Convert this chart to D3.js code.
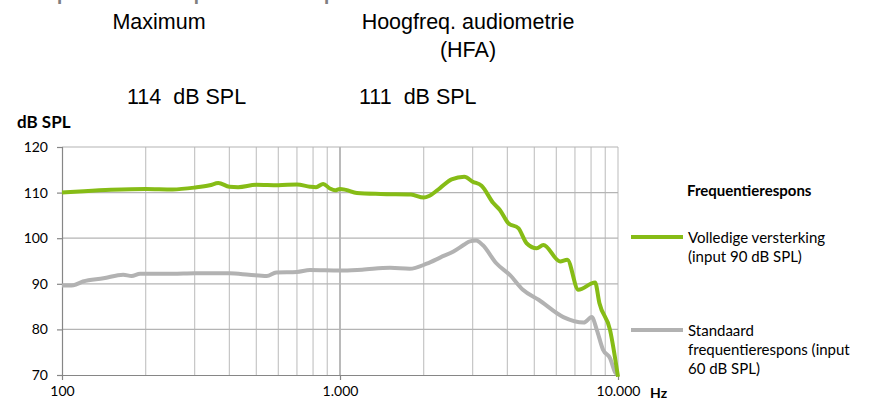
<!DOCTYPE html>
<html>
<head>
<meta charset="utf-8">
<script src="https://cdn.jsdelivr.net/npm/d3@7"></script>
<style>
  body { margin: 0; background: #fff; }
  svg { display: block; }
</style>
</head>
<body>
<div id="chart"></div>
<script>
// ---- data ----
const fullFreq = [100, 120, 150, 200, 250, 300, 340, 365, 400, 430, 500, 600, 700, 780, 820, 870, 920, 960, 1000,
  1050, 1150, 1400, 1800, 2000, 2100, 2290, 2520, 2800, 3000, 3230, 3560, 3760, 4030, 4380, 4690, 5100,
  5390, 6190, 6570, 7200, 8270, 8570, 9360, 10000];
const fullDb = [110.0, 110.3, 110.6, 110.8, 110.7, 111.1, 111.6, 112.1, 111.3, 111.2, 111.7, 111.6, 111.8, 111.3, 111.2, 111.9, 110.9, 110.5, 110.8,
  110.6, 109.9, 109.7, 109.6, 108.9, 109.3, 111.0, 112.9, 113.5, 112.4, 111.5, 107.7, 106.2, 103.3, 102.2, 98.9, 97.8,
  98.5, 94.9, 95.3, 88.7, 90.3, 85.8, 79.9, 69.6];

const stdFreq = [100, 110, 119, 141, 166, 178, 191, 250, 300, 400, 470, 545, 590, 700, 780, 1000, 1200, 1513, 1780,
  2050, 2300, 2560, 2800, 2930, 3090, 3260, 3650, 4090, 4550, 5180, 6360, 7530, 8050, 8390, 8840, 9360, 9780, 10000];
const stdDb = [89.6, 89.7, 90.5, 91.2, 92.0, 91.7, 92.2, 92.2, 92.3, 92.3, 92.0, 91.7, 92.5, 92.6, 93.0, 92.9, 93.1, 93.5, 93.3,
  94.4, 95.8, 97.1, 98.6, 99.3, 99.5, 98.5, 94.5, 91.9, 88.7, 86.5, 82.7, 81.5, 82.7, 79.9, 75.5, 73.7, 70.5, 70.0];

const yTicks = [70, 80, 90, 100, 110, 120];
const xTickLabels = [[100, "100"], [1000, "1.000"], [10000, "10.000"]];

const headers = [
  { lines: ["Maximum"], value: "114  dB SPL" },
  { lines: ["Hoogfreq. audiometrie", "(HFA)"], value: "111  dB SPL" }
];

const legendItems = [
  { lines: ["Volledige versterking", "(input 90 dB SPL)"], color: "#86bc16" },
  { lines: ["Standaard", "frequentierespons (input", "60 dB SPL)"], color: "#b2b2b2" }
];

const width = 873, height = 401;
const margin = { top: 147, right: 255, bottom: 26, left: 62 };

const svg = d3.select("#chart").append("svg")
  .attr("width", width)
  .attr("height", height);

const x = d3.scaleLog()
  .domain([100, 10000])
  .range([margin.left, width - margin.right]);

const y = d3.scaleLinear()
  .domain([70, 120])
  .range([height - margin.bottom, margin.top]);

const labelFont = "Lato, 'Open Sans', sans-serif";

// slide title, cut off by the top edge as in the original
svg.append("text")
  .attr("x", 8)
  .attr("y", -2)
  .attr("font-family", "'Liberation Sans', Arial, sans-serif")
  .attr("font-size", 30)
  .attr("fill", "#7f7f7f")
  .text("Output en frequentierespons");

// header texts
const hdr = svg.append("g")
  .attr("font-family", "'Liberation Sans', Arial, sans-serif")
  .attr("font-size", 21.5)
  .attr("fill", "#000");

hdr.append("text").attr("x", 159).attr("y", 29).attr("text-anchor", "middle").text(headers[0].lines[0]);
hdr.append("text").attr("x", 468).attr("y", 29).attr("text-anchor", "middle").text(headers[1].lines[0]);
hdr.append("text").attr("x", 468).attr("y", 57).attr("text-anchor", "middle").text(headers[1].lines[1]);
hdr.append("text").attr("x", 127).attr("y", 104).style("white-space", "pre").text(headers[0].value);
hdr.append("text").attr("x", 359).attr("y", 104).style("white-space", "pre").text(headers[1].value);

// grid
const minorFreqs = d3.range(2, 10).map(d => d * 100).concat(d3.range(2, 10).map(d => d * 1000));
const g = svg.append("g");

g.selectAll(".vgrid")
  .data(minorFreqs.concat([1000, 10000]))
  .enter().append("line")
  .attr("x1", d => x(d)).attr("x2", d => x(d))
  .attr("y1", y(70)).attr("y2", y(120))
  .attr("stroke", d => d === 1000 ? "#8c8c8c" : "#c6c6c6")
  .attr("stroke-width", 1.2);

g.selectAll(".hgrid")
  .data(yTicks.filter(d => d > 70))
  .enter().append("line")
  .attr("x1", x(100)).attr("x2", x(10000))
  .attr("y1", d => y(d)).attr("y2", d => y(d))
  .attr("stroke", "#b4b4b4")
  .attr("stroke-width", 1.2);

// axes
const yAxis = g.append("g")
  .attr("transform", `translate(${margin.left},0)`)
  .call(d3.axisLeft(y).tickValues(yTicks).tickSize(5).tickPadding(9));
yAxis.select(".domain").attr("stroke", "#868686").attr("stroke-width", 1.2);
yAxis.selectAll(".tick line").attr("stroke", "#868686").attr("stroke-width", 1.2);
yAxis.selectAll(".tick text")
  .attr("font-family", labelFont)
  .attr("font-size", 14)
  .attr("fill", "#000");

const xAxis = g.append("g")
  .attr("transform", `translate(0,${y(70)})`)
  .call(d3.axisBottom(x)
    .tickValues(xTickLabels.map(d => d[0]))
    .tickFormat((d, i) => xTickLabels[i][1])
    .tickSize(5).tickPadding(6).tickSizeOuter(0));
xAxis.select(".domain").attr("stroke", "#868686").attr("stroke-width", 1.2);
xAxis.selectAll(".tick line").attr("stroke", "#868686").attr("stroke-width", 1.2);
xAxis.selectAll(".tick text")
  .attr("font-family", labelFont)
  .attr("font-size", 14)
  .attr("fill", "#000");

// axis titles
svg.append("text")
  .attr("x", 17).attr("y", 128)
  .attr("font-family", labelFont)
  .attr("font-weight", "bold")
  .attr("font-size", 17)
  .text("dB SPL");

svg.append("text")
  .attr("x", 650).attr("y", 398)
  .attr("font-family", labelFont)
  .attr("font-weight", "bold")
  .attr("font-size", 14)
  .text("Hz");

// curves
const line = d3.line()
  .x(d => x(d[0]))
  .y(d => y(d[1]))
  .curve(d3.curveMonotoneX);

const series = [
  { pts: d3.zip(stdFreq, stdDb), color: legendItems[1].color },
  { pts: d3.zip(fullFreq, fullDb), color: legendItems[0].color }
];

g.selectAll(".curve")
  .data(series)
  .enter().append("path")
  .attr("fill", "none")
  .attr("stroke", d => d.color)
  .attr("stroke-width", 4)
  .attr("stroke-linejoin", "round")
  .attr("d", d => line(d.pts));

// legend
const legend = svg.append("g")
  .attr("font-family", labelFont)
  .attr("font-size", 15)
  .attr("fill", "#000");

legend.append("text")
  .attr("x", 687).attr("y", 196)
  .attr("font-weight", "bold")
  .text("Frequentierespons");

const legendY = [237, 330];
legendItems.forEach((item, i) => {
  legend.append("line")
    .attr("x1", 631).attr("x2", 683)
    .attr("y1", legendY[i]).attr("y2", legendY[i])
    .attr("stroke", item.color)
    .attr("stroke-width", 4);
  item.lines.forEach((t, j) => {
    legend.append("text")
      .attr("x", 688)
      .attr("y", legendY[i] + 6 + j * 19)
      .text(t);
  });
});
</script>
</body>
</html>
